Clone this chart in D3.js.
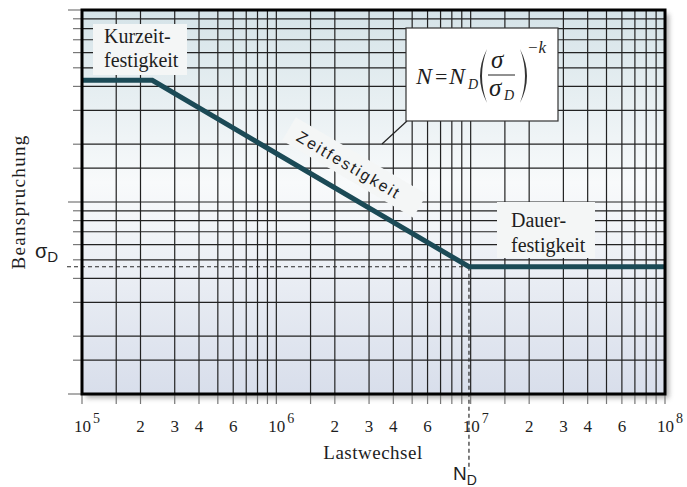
<!DOCTYPE html>
<html>
<head>
<meta charset="utf-8">
<script src="https://cdn.jsdelivr.net/npm/d3@7"></script>
<style>
  body { margin: 0; background: #fff; }
  svg text { font-family: "Liberation Serif", "DejaVu Serif", serif; fill: #1e1e1e; }
</style>
</head>
<body>
<div id="chart"></div>
<script>
// Woehler line: Lastwechsel N against Beanspruchung sigma (log-log)
var curveN = [1e5, 2.3e5, 9.8e6, 1e8];
var curveSigma = [43, 43, 4.6, 4.6];
var sigmaD = 4.6;
var nD = 9.8e6;

var xDomain = [1e5, 1e8];
var yDomain = [1, 100];
var gridSteps = [1, 1.5, 2, 3, 4, 5, 6, 7, 8, 9];

var xDecades = [1e5, 1e6, 1e7, 1e8];
var xDecadeExp = ["5", "6", "7", "8"];
var xMinorLabels = [2, 3, 4, 6];

var width = 687, height = 487;
var margin = { top: 10, right: 22, bottom: 93, left: 82 };

var x = d3.scaleLog().domain(xDomain).range([margin.left, width - margin.right]);
var y = d3.scaleLog().domain(yDomain).range([height - margin.bottom, margin.top]);

var lineColor = "#1b4a56";

function logGrid(domain) {
  var vals = [];
  for (var d = domain[0]; d < domain[1]; d *= 10) {
    gridSteps.forEach(function(s) { vals.push(d * s); });
  }
  vals.push(domain[1]);
  return vals;
}

function isDecade(v) {
  var l = Math.log10(v);
  return Math.abs(l - Math.round(l)) < 1e-9;
}

var svg = d3.select("#chart").append("svg")
  .attr("width", width)
  .attr("height", height);

var defs = svg.append("defs");

var grad = defs.append("linearGradient")
  .attr("id", "bg")
  .attr("x1", 0).attr("y1", 0).attr("x2", 0).attr("y2", 1);
grad.append("stop").attr("offset", "0%").attr("stop-color", "#d5e3e8");
grad.append("stop").attr("offset", "45%").attr("stop-color", "#f8fafb");
grad.append("stop").attr("offset", "100%").attr("stop-color", "#d8deeb");

defs.append("filter")
  .attr("id", "shadow")
  .attr("x", "-5%").attr("y", "-5%").attr("width", "110%").attr("height", "110%")
  .append("feGaussianBlur")
  .attr("stdDeviation", 2.5);

var x0 = x.range()[0], x1 = x.range()[1];
var y0 = y.range()[1], y1 = y.range()[0];

// shadow + plot background
svg.append("rect")
  .attr("x", x0 + 4).attr("y", y0 + 4)
  .attr("width", x1 - x0).attr("height", y1 - y0)
  .attr("fill", "#8a8a8a")
  .attr("opacity", 0.7)
  .attr("filter", "url(#shadow)");

svg.append("rect")
  .attr("x", x0).attr("y", y0)
  .attr("width", x1 - x0).attr("height", y1 - y0)
  .attr("fill", "url(#bg)");

var xGrid = logGrid(xDomain);
var yGrid = logGrid(yDomain);

// grid lines
svg.append("g").selectAll("line")
  .data(xGrid)
  .enter().append("line")
  .attr("x1", function(d) { return x(d); })
  .attr("x2", function(d) { return x(d); })
  .attr("y1", y0).attr("y2", y1)
  .attr("stroke", "#222")
  .attr("stroke-width", 1.2);

svg.append("g").selectAll("line")
  .data(yGrid)
  .enter().append("line")
  .attr("y1", function(d) { return y(d); })
  .attr("y2", function(d) { return y(d); })
  .attr("x1", x0).attr("x2", x1)
  .attr("stroke", "#222")
  .attr("stroke-width", 1.2);

// ticks outside the frame
svg.append("g").selectAll("line")
  .data(xGrid)
  .enter().append("line")
  .attr("x1", function(d) { return x(d); })
  .attr("x2", function(d) { return x(d); })
  .attr("y1", y1).attr("y2", y1 + 10)
  .attr("stroke", "#777")
  .attr("stroke-width", 1.2);

svg.append("g").selectAll("line")
  .data(yGrid)
  .enter().append("line")
  .attr("y1", function(d) { return y(d); })
  .attr("y2", function(d) { return y(d); })
  .attr("x1", function(d) { return isDecade(d) ? x0 - 14 : x0 - 9; })
  .attr("x2", x0)
  .attr("stroke", "#777")
  .attr("stroke-width", 1.2);

// x tick labels
var decLabels = svg.append("g").selectAll("text")
  .data(xDecades)
  .enter().append("text")
  .attr("x", function(d) { return x(d) - 8; })
  .attr("y", 432)
  .style("font-size", "17px");
decLabels.append("tspan").text("10");
decLabels.append("tspan")
  .attr("dx", 2)
  .attr("dy", -9)
  .style("font-size", "14px")
  .text(function(d, i) { return xDecadeExp[i]; });

var minorVals = [];
xDecades.slice(0, 3).forEach(function(d) {
  xMinorLabels.forEach(function(m) { minorVals.push({ v: d * m, label: m }); });
});
svg.append("g").selectAll("text")
  .data(minorVals)
  .enter().append("text")
  .attr("x", function(d) { return x(d.v); })
  .attr("y", 432)
  .attr("text-anchor", "middle")
  .style("font-size", "17px")
  .text(function(d) { return d.label; });

// axis titles
svg.append("text")
  .attr("x", 373).attr("y", 459)
  .attr("text-anchor", "middle")
  .style("font-size", "19px")
  .style("letter-spacing", "0.5px")
  .text("Lastwechsel");

svg.append("text")
  .attr("transform", "translate(25," + ((y0 + y1) / 2) + ") rotate(-90)")
  .attr("text-anchor", "middle")
  .style("font-size", "19px")
  .style("letter-spacing", "1.3px")
  .text("Beanspruchung");

// sigma_D and N_D reference lines
svg.append("line")
  .attr("x1", x0 - 15).attr("x2", x(nD))
  .attr("y1", y(sigmaD)).attr("y2", y(sigmaD))
  .attr("stroke", "#2a2a2a")
  .attr("stroke-width", 1.2)
  .attr("stroke-dasharray", "4,3");

svg.append("line")
  .attr("x1", x(nD)).attr("x2", x(nD))
  .attr("y1", y(sigmaD)).attr("y2", 470)
  .attr("stroke", "#2a2a2a")
  .attr("stroke-width", 1.2)
  .attr("stroke-dasharray", "4,3");

var sd = svg.append("text")
  .attr("x", 35).attr("y", y(sigmaD) - 9)
  .style("font-family", "'Liberation Sans', Arial, sans-serif")
  .style("font-size", "20px");
sd.append("tspan").text("σ");
sd.append("tspan").attr("dy", 4).style("font-size", "15px").text("D");

var nd = svg.append("text")
  .attr("x", x(nD) - 16).attr("y", 480)
  .style("font-family", "'Liberation Sans', Arial, sans-serif")
  .style("font-size", "19px");
nd.append("tspan").text("N");
nd.append("tspan").attr("dy", 5).style("font-size", "14px").text("D");

// label boxes
function labelBox(bx, by, bw, bh, lines, tx, ty, lh) {
  svg.append("rect")
    .attr("x", bx).attr("y", by)
    .attr("width", bw).attr("height", bh)
    .attr("fill", "#f4f6f6");
  lines.forEach(function(t, i) {
    svg.append("text")
      .attr("x", tx).attr("y", ty + i * lh)
      .style("font-size", "20px")
      .text(t);
  });
}

labelBox(93, 24, 94, 51, ["Kurzeit-", "festigkeit"], 104, 43, 24);
labelBox(497, 202, 98, 56, ["Dauer-", "festigkeit"], 511, 227, 25);

// Zeitfestigkeit label along the sloped part
var slopeAngle = Math.atan2(y(curveSigma[2]) - y(curveSigma[1]), x(curveN[2]) - x(curveN[1])) * 180 / Math.PI;
var zl = svg.append("g")
  .attr("transform", "translate(346,170) rotate(" + slopeAngle + ")");
zl.append("rect")
  .attr("x", -70).attr("y", -20)
  .attr("width", 152).attr("height", 27)
  .attr("fill", "#f4f6f6");
zl.append("text")
  .attr("text-anchor", "middle")
  .style("font-family", "'Liberation Sans', Arial, sans-serif")
  .style("font-size", "16px")
  .style("letter-spacing", "2px")
  .text("Zeitfestigkeit");

// formula box with callout
svg.append("line")
  .attr("x1", 407).attr("y1", 121)
  .attr("x2", 382).attr("y2", 144)
  .attr("stroke", "#222")
  .attr("stroke-width", 1.2);

svg.append("rect")
  .attr("x", 406).attr("y", 28)
  .attr("width", 152).attr("height", 93)
  .attr("fill", "#fff")
  .attr("stroke", "#333")
  .attr("stroke-width", 1.2);

var fm = svg.append("g").style("font-style", "italic");
fm.append("text").attr("x", 416).attr("y", 84).style("font-size", "24px").text("N");
fm.append("text").attr("x", 435).attr("y", 84).style("font-size", "22px").style("font-style", "normal").text("=");
fm.append("text").attr("x", 449).attr("y", 84).style("font-size", "24px").text("N");
fm.append("text").attr("x", 468).attr("y", 89).style("font-size", "14px").text("D");
fm.append("text").attr("x", 491).attr("y", 68).style("font-size", "25px").text("σ");
fm.append("line")
  .attr("x1", 488).attr("x2", 515)
  .attr("y1", 75).attr("y2", 75)
  .attr("stroke", "#222").attr("stroke-width", 1);
fm.append("text").attr("x", 489).attr("y", 96).style("font-size", "25px").text("σ");
fm.append("text").attr("x", 504).attr("y", 100).style("font-size", "14px").text("D");
fm.append("path")
  .attr("d", "M487,49 Q473,76 487,103 Q477,76 487,49 Z")
  .attr("fill", "#333");
fm.append("path")
  .attr("d", "M520,49 Q534,76 520,103 Q530,76 520,49 Z")
  .attr("fill", "#333");
fm.append("text").attr("x", 527).attr("y", 53).style("font-size", "17px").text("−k");

// Woehler curve
var curve = curveN.map(function(n, i) { return [n, curveSigma[i]]; });
svg.append("path")
  .datum(curve)
  .attr("fill", "none")
  .attr("stroke", lineColor)
  .attr("stroke-width", 5)
  .attr("stroke-linejoin", "miter")
  .attr("d", d3.line()
    .x(function(d) { return x(d[0]); })
    .y(function(d) { return y(d[1]); }));

// frame
svg.append("rect")
  .attr("x", x0).attr("y", y0)
  .attr("width", x1 - x0).attr("height", y1 - y0)
  .attr("fill", "none")
  .attr("stroke", "#000")
  .attr("stroke-width", 3);
</script>
</body>
</html>
